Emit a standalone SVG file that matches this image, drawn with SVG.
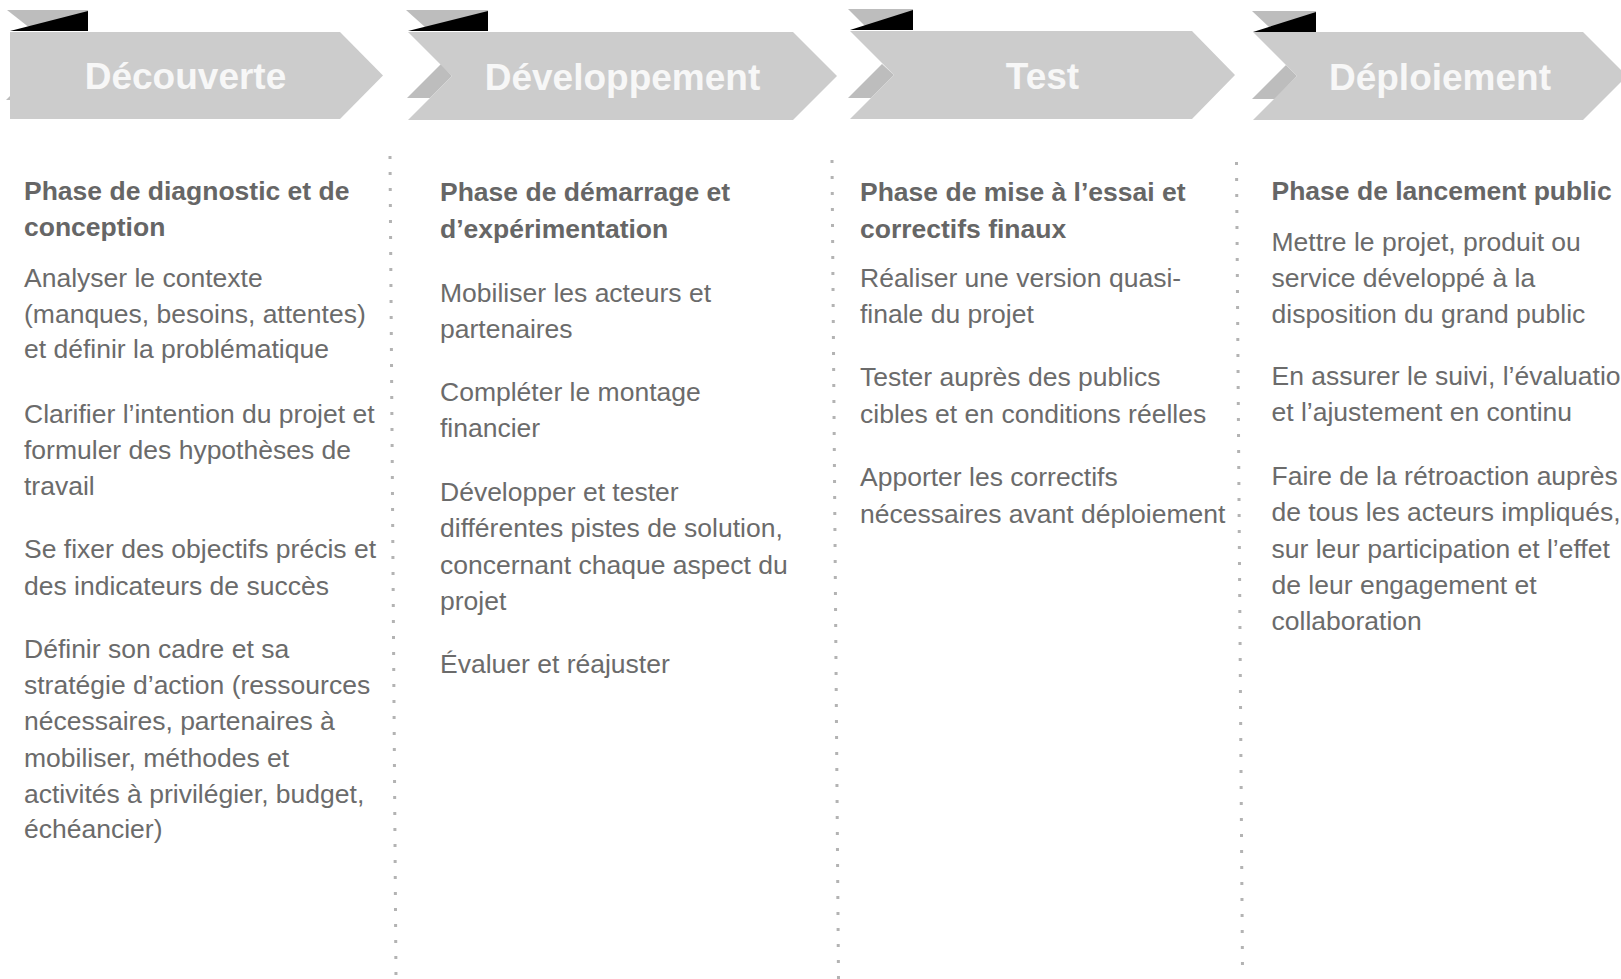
<svg xmlns="http://www.w3.org/2000/svg" width="1621" height="979" viewBox="0 0 1621 979">
<style>
.main{fill:#cccccc}
.dark{fill:#bdbdbd}
.blk{fill:#000000}
.title{font-family:"Liberation Sans",Arial,sans-serif;font-weight:bold;font-size:37px;fill:#f7f7f7;text-anchor:middle}
.h{font-family:"Liberation Sans",Arial,sans-serif;font-weight:bold;font-size:26.5px;fill:#666666}
.b{font-family:"Liberation Sans",Arial,sans-serif;font-size:26.5px;fill:#6b6b6b}
.sep{stroke:#b3b3b3;stroke-width:3;stroke-dasharray:3 13;fill:none}
</style>
<rect width="1621" height="979" fill="#ffffff"/>
<g id="phase-decouverte">
<polygon class="dark" points="7,10 88,10 88,31 28,26.4"/>
<polygon class="blk" points="10,31 88,11 88,31"/>
<polygon class="dark" points="6,100 10,96 10,100"/>
<polygon class="main" points="10,32 340,32 383,75.5 340,119 10,119"/>
<text class="title" x="185.5" y="89">Découverte</text>
</g>
<g id="phase-developpement">
<polygon class="dark" points="406,10 488,10 488,31 425,27"/>
<polygon class="blk" points="408,31 488,11 488,31"/>
<polygon class="dark" points="407,98 441,64 452,76 430,98"/>
<polygon class="main" points="408,32 793,32 837,76 793,120 408,120 452,76"/>
<text class="title" x="622.5" y="89.5">Développement</text>
</g>
<g id="phase-test">
<polygon class="dark" points="848,9 913,9 913,30 864.5,25.5"/>
<polygon class="blk" points="850,30 913,10 913,30"/>
<polygon class="dark" points="848,98 882,64 894,75 871,98"/>
<polygon class="main" points="850,31 1192,31 1235,75 1192,119 850,119 894,75"/>
<text class="title" x="1042.5" y="88.5">Test</text>
</g>
<g id="phase-deploiement">
<polygon class="dark" points="1252,11 1316,11 1316,32 1269,27"/>
<polygon class="blk" points="1253,32 1316,12 1316,32"/>
<polygon class="dark" points="1252,99 1286,65 1297,76 1275,99"/>
<polygon class="main" points="1253,32 1583,32 1627,76 1583,120 1253,120 1297,76"/>
<text class="title" x="1440" y="89.5">Déploiement</text>
</g>
<g id="connectors">
<line class="sep" x1="390" y1="156" x2="396" y2="979"/>
<line class="sep" x1="832" y1="160" x2="838.5" y2="979"/>
<line class="sep" x1="1236.5" y1="162" x2="1242.5" y2="970"/>
</g>
<g id="col-decouverte">
<text class="h" x="24" y="200">Phase de diagnostic et de</text>
<text class="h" x="24" y="236">conception</text>
<text class="b" x="24" y="286.5">Analyser le contexte</text>
<text class="b" x="24" y="322.5">(manques, besoins, attentes)</text>
<text class="b" x="24" y="358">et définir la problématique</text>
<text class="b" x="24" y="422.5">Clarifier l’intention du projet et</text>
<text class="b" x="24" y="458.5">formuler des hypothèses de</text>
<text class="b" x="24" y="494.5">travail</text>
<text class="b" x="24" y="558">Se fixer des objectifs précis et</text>
<text class="b" x="24" y="594.5">des indicateurs de succès</text>
<text class="b" x="24" y="658">Définir son cadre et sa</text>
<text class="b" x="24" y="694">stratégie d’action (ressources</text>
<text class="b" x="24" y="730">nécessaires, partenaires à</text>
<text class="b" x="24" y="766.5">mobiliser, méthodes et</text>
<text class="b" x="24" y="802.5">activités à privilégier, budget,</text>
<text class="b" x="24" y="838">échéancier)</text>
</g>
<g id="col-developpement">
<text class="h" x="440" y="201">Phase de démarrage et</text>
<text class="h" x="440" y="237.5">d’expérimentation</text>
<text class="b" x="440" y="301.5">Mobiliser les acteurs et</text>
<text class="b" x="440" y="337.5">partenaires</text>
<text class="b" x="440" y="400.5">Compléter le montage</text>
<text class="b" x="440" y="437">financier</text>
<text class="b" x="440" y="501">Développer et tester</text>
<text class="b" x="440" y="537">différentes pistes de solution,</text>
<text class="b" x="440" y="573.5">concernant chaque aspect du</text>
<text class="b" x="440" y="609.5">projet</text>
<text class="b" x="440" y="672.5">Évaluer et réajuster</text>
</g>
<g id="col-test">
<text class="h" x="860" y="201">Phase de mise à l’essai et</text>
<text class="h" x="860" y="237.5">correctifs finaux</text>
<text class="b" x="860" y="287">Réaliser une version quasi-</text>
<text class="b" x="860" y="323">finale du projet</text>
<text class="b" x="860" y="386">Tester auprès des publics</text>
<text class="b" x="860" y="423">cibles et en conditions réelles</text>
<text class="b" x="860" y="485.5">Apporter les correctifs</text>
<text class="b" x="860" y="522.5">nécessaires avant déploiement</text>
</g>
<g id="col-deploiement">
<text class="h" x="1271.5" y="200">Phase de lancement public</text>
<text class="b" x="1271.5" y="250.5">Mettre le projet, produit ou</text>
<text class="b" x="1271.5" y="286.5">service développé à la</text>
<text class="b" x="1271.5" y="322.5">disposition du grand public</text>
<text class="b" x="1271.5" y="384.5">En assurer le suivi, l’évaluation</text>
<text class="b" x="1271.5" y="421">et l’ajustement en continu</text>
<text class="b" x="1271.5" y="485">Faire de la rétroaction auprès</text>
<text class="b" x="1271.5" y="521">de tous les acteurs impliqués,</text>
<text class="b" x="1271.5" y="557.5">sur leur participation et l’effet</text>
<text class="b" x="1271.5" y="593.5">de leur engagement et</text>
<text class="b" x="1271.5" y="629.5">collaboration</text>
</g>
</svg>
